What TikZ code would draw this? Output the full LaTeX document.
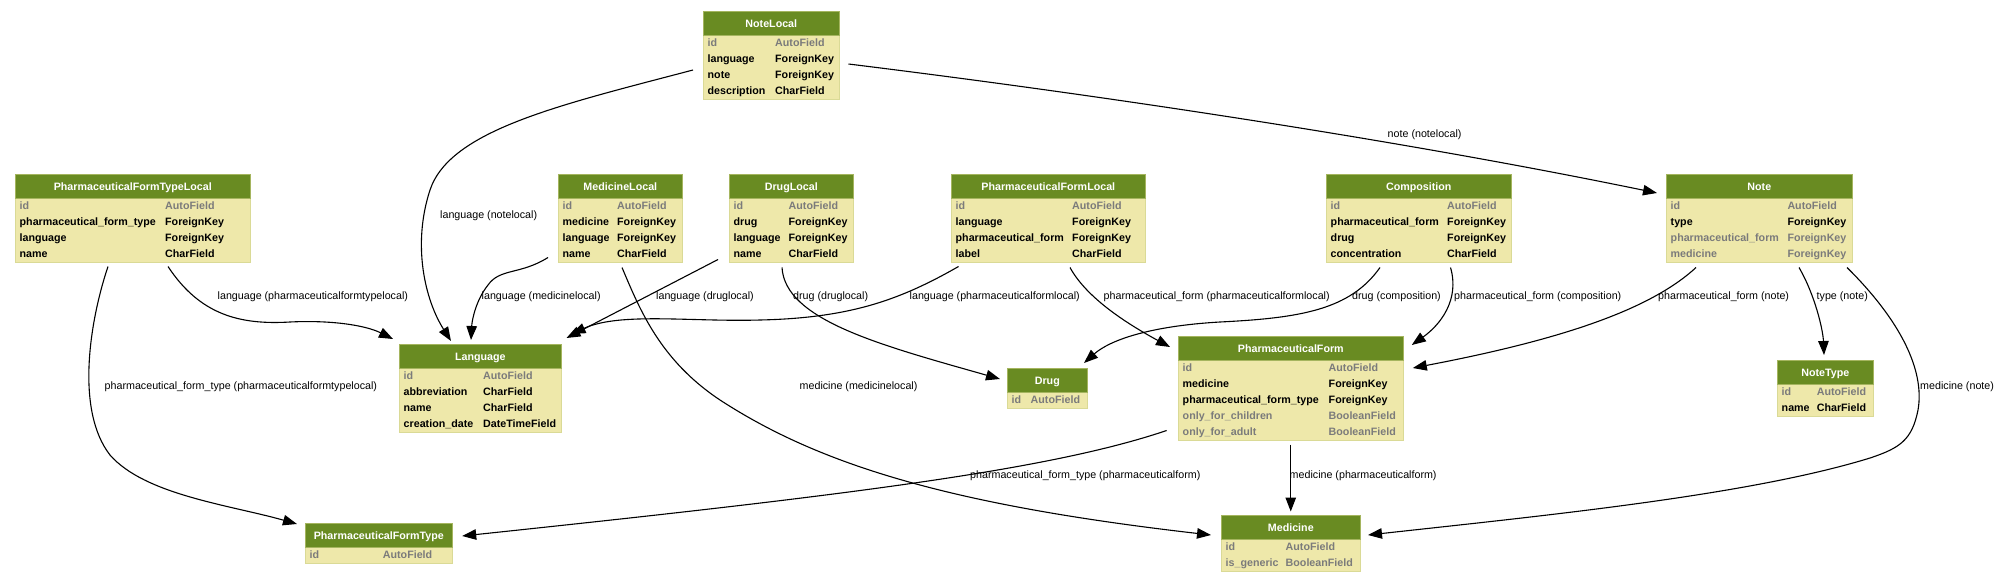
\documentclass[tikz,border=0pt]{standalone}
\usepackage{fontspec}
\setmainfont{Liberation Sans}
\usetikzlibrary{arrows.meta, calc}

\definecolor{headgreen}{HTML}{698B22}
\definecolor{bodyyellow}{HTML}{EEE8AA}
\definecolor{fieldgray}{HTML}{7B7B7B}

\newcommand{\fieldsize}{\fontsize{10.7}{12}\selectfont}

% model table: name, x, y, width, type column, rows, title, fields
\newcommand{\modeltable}[8]{%
  \node[modelbody, minimum width=#4pt, minimum height={24pt+16pt*#6}] (#1) at (#2,#3) {};
  \node[modelhead, minimum width=#4pt] (#1-head) at (#1.north west) {#7};
  \foreach \col/\fname/\ftype [count=\i] in {#8} {
    \node[field, text=\col] at ($(#1.north west)+(4.5,19+16*\i)$) {\fname};
    \node[field, text=\col] at ($(#1.north west)+(#5,19+16*\i)$) {\ftype};
  }%
}

\begin{document}
\begin{tikzpicture}[x=1pt, y=-1pt,
        modelbody/.style={rectangle, fill=bodyyellow, draw=bodyyellow!85!headgreen, line width=0.5pt, inner sep=0pt, anchor=north west},
        modelhead/.style={rectangle, fill=headgreen, draw=headgreen!55!bodyyellow, line width=0.6pt, text=white, font=\bfseries\fieldsize, inner sep=0pt, minimum height=24pt, text height=7.6pt, text depth=0pt, anchor=north west},
        field/.style={font=\bfseries\fieldsize, inner sep=0pt, anchor=base west},
        fk/.style={-{Triangle[length=14pt, width=10.5pt]}, line width=1.1pt},
        fklabel/.style={font=\fieldsize, inner sep=0pt, anchor=base west}]

    \useasboundingbox (0,0) rectangle (2000,581);

    % Local models
    \modeltable{notelocal}{703}{11}{136}{72}{4}{NoteLocal}{fieldgray/id/AutoField, black/language/ForeignKey, black/note/ForeignKey, black/description/CharField}
    \modeltable{pftl}{15}{174}{235}{150}{4}{PharmaceuticalFormTypeLocal}{fieldgray/id/AutoField, black/pharmaceutical\_form\_type/ForeignKey, black/language/ForeignKey, black/name/CharField}
    \modeltable{medicinelocal}{558}{174}{124}{59}{4}{MedicineLocal}{fieldgray/id/AutoField, black/medicine/ForeignKey, black/language/ForeignKey, black/name/CharField}
    \modeltable{druglocal}{729}{174}{124}{59.5}{4}{DrugLocal}{fieldgray/id/AutoField, black/drug/ForeignKey, black/language/ForeignKey, black/name/CharField}
    \modeltable{pfl}{951}{174}{194}{121}{4}{PharmaceuticalFormLocal}{fieldgray/id/AutoField, black/language/ForeignKey, black/pharmaceutical\_form/ForeignKey, black/label/CharField}
    \modeltable{composition}{1326}{174}{185}{121}{4}{Composition}{fieldgray/id/AutoField, black/pharmaceutical\_form/ForeignKey, black/drug/ForeignKey, black/concentration/CharField}
    \modeltable{note}{1666}{174}{186}{121.3}{4}{Note}{fieldgray/id/AutoField, black/type/ForeignKey, fieldgray/pharmaceutical\_form/ForeignKey, fieldgray/medicine/ForeignKey}

    % Base models
    \modeltable{language}{399}{344}{162}{84}{4}{Language}{fieldgray/id/AutoField, black/abbreviation/CharField, black/name/CharField, black/creation\_date/DateTimeField}
    \modeltable{drug}{1007}{368}{80}{23.5}{1}{Drug}{fieldgray/id/AutoField}
    \modeltable{pf}{1178}{336}{225}{150.5}{5}{PharmaceuticalForm}{fieldgray/id/AutoField, black/medicine/ForeignKey, black/pharmaceutical\_form\_type/ForeignKey, fieldgray/only\_for\_children/BooleanField, fieldgray/only\_for\_adult/BooleanField}
    \modeltable{notetype}{1777}{360}{96}{39.6}{2}{NoteType}{fieldgray/id/AutoField, black/name/CharField}
    \modeltable{pft}{305}{523}{147}{77.7}{1}{PharmaceuticalFormType}{fieldgray/id/AutoField}
    \modeltable{medicine}{1221}{515}{139}{64.5}{2}{Medicine}{fieldgray/id/AutoField, fieldgray/is\_generic/BooleanField}

    % Foreign keys to Language
    \draw[fk] ($(notelocal.north west)+(-10,59)$) .. controls (560,105) and (450,130) .. (430,190) .. controls (412,245) and (425,300) .. ($(language.north west)+(52,-3)$);
    \draw[fk] ($(pftl.south west)+(153,4)$) .. controls (200,315) and (240,325) .. (290,322) .. controls (330,320) and (365,325) .. ($(language.north west)+(-6,-5)$);
    \draw[fk] ($(medicinelocal.south west)+(-10,-5)$) .. controls (520,275) and (500,268) .. (488,285) .. controls (476,300) and (472,320) .. ($(language.north west)+(72,-4)$);
    \draw[fk] ($(druglocal.south west)+(-11,-3)$) -- ($(language.north east)+(5,-6)$);
    \draw[fk] ($(pfl.south west)+(7.5,4)$) .. controls (900,300) and (850,318) .. (760,320) .. controls (690,322) and (620,312) .. ($(language.north east)+(10,-10)$);

    % Other foreign keys
    \draw[fk] ($(pftl.south west)+(93,4)$) .. controls (90,320) and (75,410) .. (110,455) .. controls (145,495) and (230,505) .. ($(pft.north west)+(-8,1)$);
    \draw[fk] ($(medicinelocal.south west)+(64,5)$) .. controls (640,310) and (660,360) .. (720,400) .. controls (820,465) and (950,505) .. ($(medicine.north west)+(-10,20)$);
    \draw[fk] ($(druglocal.south west)+(53,5)$) .. controls (785,320) and (880,345) .. ($(drug.north west)+(-7,11)$);
    \draw[fk] ($(pfl.south west)+(119,5)$) .. controls (1085,295) and (1120,320) .. ($(pf.north west)+(-8,11)$);
    \draw[fk] ($(composition.south west)+(54,5)$) .. controls (1350,310) and (1300,318) .. (1220,322) .. controls (1150,326) and (1110,340) .. ($(drug.north east)+(-3.5,-5)$);
    \draw[fk] ($(composition.south west)+(124.5,5)$) .. controls (1460,300) and (1440,325) .. ($(pf.north east)+(8.3,9)$);
    \draw[fk] ($(notelocal.north east)+(9,53)$) .. controls (1100,95) and (1400,140) .. ($(note.north west)+(-9,19)$);
    \draw[fk] ($(note.south west)+(30,5)$) .. controls (1650,310) and (1560,340) .. ($(pf.north east)+(9.3,32)$);
    \draw[fk] ($(note.south west)+(133,5)$) .. controls (1815,295) and (1823,330) .. ($(notetype.north west)+(47,-5)$);
    \draw[fk] ($(note.south west)+(181,5)$) .. controls (1900,320) and (1925,370) .. (1918,410) .. controls (1912,440) and (1900,448) .. (1870,458) .. controls (1750,495) and (1550,515) .. ($(medicine.north east)+(7.5,20)$);
    \draw[fk] ($(pf.south west)+(-11.4,-10)$) .. controls (1050,470) and (850,495) .. ($(pft.north east)+(9.7,13)$);
    \draw[fk] ($(pf.south)+(0,4)$) -- ($(medicine.north)+(0,-3.5)$);

    % Edge labels
    \node[fklabel] (lbl-nl-lang) at (440,218.5) {language (notelocal)};
    \node[fklabel] (lbl-pftl-lang) at (217.5,299.5) {language (pharmaceuticalformtypelocal)};
    \node[fklabel] (lbl-pftl-pft) at (104.5,389.5) {pharmaceutical\_form\_type (pharmaceuticalformtypelocal)};
    \node[fklabel] (lbl-ml-lang) at (481.5,299.5) {language (medicinelocal)};
    \node[fklabel] (lbl-ml-med) at (799.5,389.5) {medicine (medicinelocal)};
    \node[fklabel] (lbl-dl-lang) at (656,299.5) {language (druglocal)};
    \node[fklabel] (lbl-dl-drug) at (793,299.5) {drug (druglocal)};
    \node[fklabel] (lbl-pfl-lang) at (909.5,299.5) {language (pharmaceuticalformlocal)};
    \node[fklabel] (lbl-pfl-pf) at (1103.5,299.5) {pharmaceutical\_form (pharmaceuticalformlocal)};
    \node[fklabel] (lbl-comp-drug) at (1352,299.5) {drug (composition)};
    \node[fklabel] (lbl-comp-pf) at (1454,299.5) {pharmaceutical\_form (composition)};
    \node[fklabel] (lbl-note-pf) at (1658,299.5) {pharmaceutical\_form (note)};
    \node[fklabel] (lbl-note-type) at (1816.5,299.5) {type (note)};
    \node[fklabel] (lbl-note-med) at (1920,389.5) {medicine (note)};
    \node[fklabel] (lbl-nl-note) at (1387.5,137) {note (notelocal)};
    \node[fklabel] (lbl-pf-pft) at (970,478) {pharmaceutical\_form\_type (pharmaceuticalform)};
    \node[fklabel] (lbl-pf-med) at (1289.5,478) {medicine (pharmaceuticalform)};

\end{tikzpicture}
\end{document}
